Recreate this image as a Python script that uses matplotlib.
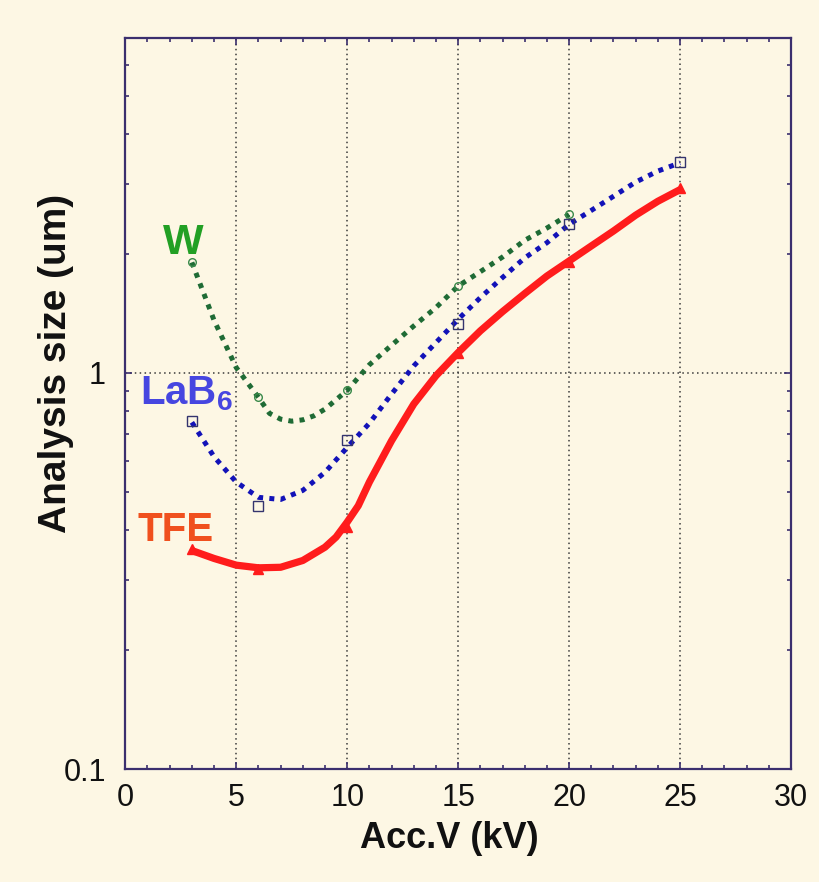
import matplotlib
matplotlib.use("Agg")
import matplotlib.pyplot as plt
from matplotlib.ticker import FixedLocator, NullFormatter, MultipleLocator, FixedFormatter

# smooth curves (kV, um)
w_kv = [3, 4, 5, 6, 6.5, 7, 7.5, 8, 8.5, 9, 10, 11, 12, 13, 14, 15, 16, 17, 18, 19, 20]
w_size = [1.90, 1.357, 1.031, 0.867, 0.79, 0.764, 0.755, 0.761, 0.779, 0.810, 0.903, 1.048,
          1.174, 1.313, 1.461, 1.656, 1.80, 1.96, 2.16, 2.32, 2.51]

lab6_kv = [3, 4, 5, 6, 7, 8, 9, 10, 11, 12, 13, 14, 15, 16, 17, 18, 19, 20, 21, 22, 23, 24, 25]
lab6_size = [0.750, 0.614, 0.530, 0.485, 0.479, 0.505, 0.561, 0.648, 0.746, 0.884, 1.041,
             1.192, 1.365, 1.548, 1.74, 1.95, 2.13, 2.37, 2.57, 2.79, 3.03, 3.23, 3.39]

tfe_kv = [3, 4, 5, 6, 7, 8, 9, 9.5, 10, 10.5, 11, 12, 13, 14, 15, 16, 17, 18, 19, 20, 21, 22,
          23, 24, 25]
tfe_size = [0.356, 0.340, 0.327, 0.322, 0.323, 0.336, 0.363, 0.385, 0.42, 0.462, 0.53, 0.674,
            0.834, 0.983, 1.125, 1.276, 1.427, 1.585, 1.755, 1.915, 2.09, 2.28, 2.50, 2.71, 2.90]

# measured points (markers)
w_pts_kv = [3, 6, 10, 15, 20]
w_pts = [1.90, 0.867, 0.905, 1.656, 2.51]
lab6_pts_kv = [3, 6, 10, 15, 20, 25]
lab6_pts = [0.757, 0.46, 0.677, 1.33, 2.37, 3.41]
tfe_pts_kv = [3, 6, 10, 15, 20, 25]
tfe_pts = [0.36, 0.319, 0.408, 1.12, 1.90, 2.93]

bg = "#fdf7e4"
spine_c = "#3b2f6e"
font = "Liberation Sans"
plt.rcParams["font.family"] = [font, "DejaVu Sans"]
plt.rcParams["mathtext.fontset"] = "custom"
plt.rcParams["mathtext.rm"] = font
plt.rcParams["mathtext.bf"] = font + ":bold"

fig = plt.figure(figsize=(8.2, 8.82), dpi=100, facecolor=bg)
ax = fig.add_axes([0.1528, 0.1281, 0.8118, 0.8288], facecolor=bg)

dot = (0, (1, 1.25))
ax.plot(w_kv, w_size, color="#1f6b35", lw=3.6, linestyle=dot, dash_capstyle="butt", zorder=3)
ax.plot(lab6_kv, lab6_size, color="#1212b8", lw=3.6, linestyle=dot, dash_capstyle="butt", zorder=3)
ax.plot(tfe_kv, tfe_size, color="#ff1c1c", lw=5.2, solid_capstyle="butt", zorder=3)

ax.plot(w_pts_kv, w_pts, linestyle="none", marker="o", ms=5.5, mfc="none", mec="#3a8a4a",
        mew=1, zorder=4)
ax.plot(lab6_pts_kv, lab6_pts, linestyle="none", marker="s", ms=7, mfc="none",
        mec="#34346e", mew=1, zorder=4)
ax.plot(tfe_pts_kv, tfe_pts, linestyle="none", marker="^", ms=7.5, color="#ff1c1c", zorder=4)

ax.set_yscale("log")
ax.set_xlim(0, 30)
ax.set_ylim(0.1, 7)

ax.xaxis.set_major_locator(MultipleLocator(5))
ax.xaxis.set_minor_locator(MultipleLocator(1))
ax.yaxis.set_major_locator(FixedLocator([0.1, 1]))
ax.yaxis.set_major_formatter(FixedFormatter(["0.1", "1"]))
ax.yaxis.set_minor_locator(FixedLocator([0.2, 0.3, 0.4, 0.5, 0.6, 0.7, 0.8, 0.9,
                                         2, 3, 4, 5, 6]))
ax.yaxis.set_minor_formatter(NullFormatter())

ax.tick_params(which="both", direction="in", top=True, right=True, color=spine_c,
               width=1.2, labelsize=22, labelcolor="#111111")
ax.tick_params(which="major", length=5, pad=10)
ax.tick_params(which="minor", length=3)
ax.tick_params(axis="y", which="major", pad=14)

for s in ax.spines.values():
    s.set_color(spine_c)
    s.set_linewidth(1.6)

ax.grid(which="major", color="#3a3a3a", linestyle=(0, (1, 2.2)), linewidth=1.1, zorder=1)

ax.set_xlabel("Acc.V (kV)", fontsize=26, fontweight="bold", color="#111111")
ax.xaxis.set_label_coords(0.487, -0.071)
ax.set_ylabel("Analysis size (um)", fontsize=28, fontweight="bold", color="#111111")
ax.yaxis.set_label_coords(-0.077, 0.555)

ax.text(1.7, 2.0, "W", fontsize=31, fontweight="bold", color="#22a024", ha="left",
        va="baseline")
ax.text(0.66, 0.83, r"$\mathbf{LaB_6}$", fontsize=29, color="#4646e0", ha="left",
        va="baseline")
ax.text(0.53, 0.377, "TFE", fontsize=29, fontweight="bold", color="#f0501e", ha="left",
        va="baseline")

fig.savefig("out.png", dpi=100, facecolor=bg)
